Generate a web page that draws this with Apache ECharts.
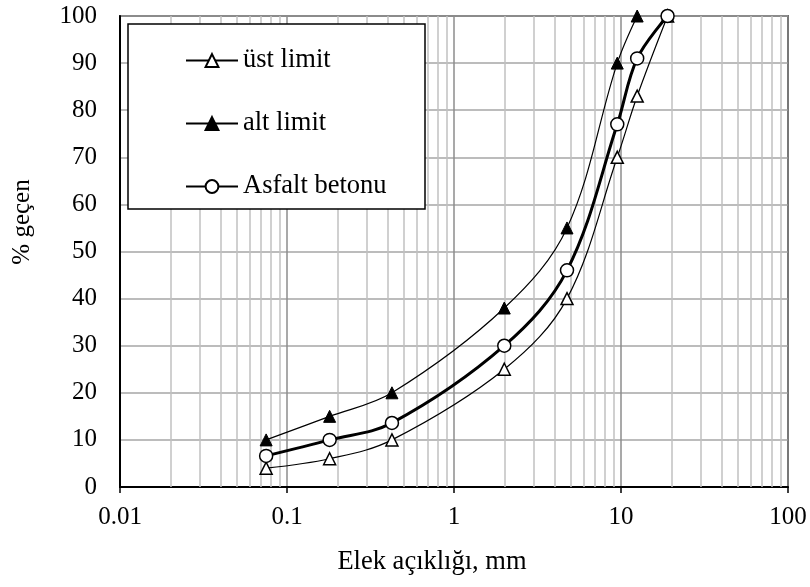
<!DOCTYPE html>
<html>
<head>
<meta charset="utf-8">
<script src="https://cdn.jsdelivr.net/npm/echarts@6/dist/echarts.min.js"></script>
<style>html,body{margin:0;padding:0;background:#fff}#c{width:810px;height:587px}</style>
</head>
<body>
<div id="c"></div>
<script>
const sieveSizes = [0.075, 0.18, 0.425, 2, 4.75, 9.5, 12.5, 19];
const ustLimit = [4, 6, 10, 25, 40, 70, 83, 100];
const altLimit = [10, 15, 20, 38, 55, 90, 100];
const asfaltBetonu = [6.6, 10, 13.6, 30, 46, 77, 91, 100];
const xTickLabels = ['0.01', '0.1', '1', '10', '100'];
const minorGridValues = [0.02,0.03,0.04,0.05,0.06,0.07,0.08,0.09,
  0.2,0.3,0.4,0.5,0.6,0.7,0.8,0.9, 2,3,4,5,6,7,8,9, 20,30,40,50,60,70,80,90];
const seriesNames = ['üst limit', 'alt limit', 'Asfalt betonu'];
const xAxisTitle = 'Elek açıklığı, mm';
const yAxisTitle = '% geçen';

const FONT = '"Liberation Serif", "Times New Roman", serif';
const pairs = (xs, ys) => ys.map((y, i) => [xs[i], y]);

const chart = echarts.init(document.getElementById('c'), null, {renderer: 'canvas'});
chart.setOption({
  animation: false,
  backgroundColor: '#fff',
  textStyle: {fontFamily: FONT, color: '#000'},
  grid: {left: 120, right: 22, top: 16, bottom: 100, show: true, borderColor: '#000', borderWidth: 1.5, containLabel: false},
  xAxis: {
    type: 'log', logBase: 10, min: 0.01, max: 100,
    axisLine: {show: true, onZero: false, lineStyle: {color: '#000', width: 2}},
    axisTick: {show: true, length: 6, lineStyle: {color: '#000', width: 1.5}},
    axisLabel: {fontFamily: FONT, fontSize: 25, color: '#000', margin: 18,
      formatter: v => { const s = xTickLabels.find(t => Math.abs(parseFloat(t) - v) / v < 1e-6); return s || ''; }},
    splitLine: {show: true, lineStyle: {color: '#8c8c8c', width: 1.5}}
  },
  yAxis: {
    type: 'value', min: 0, max: 100, interval: 10,
    axisLine: {show: true, lineStyle: {color: '#000', width: 2}},
    axisTick: {show: false},
    axisLabel: {fontFamily: FONT, fontSize: 25, color: '#000', margin: 23},
    splitLine: {show: true, lineStyle: {color: '#a6a6a6', width: 1.5}}
  },
  legend: {
    orient: 'vertical', left: 180, top: 42, z: 10,
    itemWidth: 52, itemHeight: 16, itemGap: 36,
    textStyle: {fontFamily: FONT, fontSize: 26.5, color: '#000', lineHeight: 26},
    data: seriesNames
  },
  graphic: [
    {type: 'rect', z: 8, shape: {x: 128, y: 24, width: 297, height: 185},
      style: {fill: '#fff', stroke: '#000', lineWidth: 1.5}},
    {type: 'text', x: 22, y: 222, rotation: Math.PI / 2,
      style: {text: yAxisTitle, font: '25px ' + FONT, fill: '#000', align: 'center', verticalAlign: 'middle'}},
    {type: 'text', x: 432, y: 562,
      style: {text: xAxisTitle, font: '26.5px ' + FONT, fill: '#000', align: 'center', verticalAlign: 'middle'}}
  ],
  series: [
    {
      name: seriesNames[0], type: 'line', smooth: 0.35, z: 3,
      data: pairs(sieveSizes, ustLimit),
      symbol: 'triangle', symbolSize: 12,
      itemStyle: {color: '#fff', borderColor: '#000', borderWidth: 1.5},
      lineStyle: {color: '#000', width: 1.2},
      markLine: {
        silent: true, symbol: 'none', z: 1, animation: false,
        label: {show: false},
        lineStyle: {color: '#c0c0c0', width: 1.5, type: 'solid'},
        data: minorGridValues.map(v => ({xAxis: v}))
      }
    },
    {
      name: seriesNames[1], type: 'line', smooth: 0.35, z: 4,
      data: pairs(sieveSizes, altLimit),
      symbol: 'triangle', symbolSize: 12,
      itemStyle: {color: '#000', borderColor: '#000', borderWidth: 1},
      lineStyle: {color: '#000', width: 1.2}
    },
    {
      name: seriesNames[2], type: 'line', smooth: 0.35, z: 5,
      data: pairs(sieveSizes, asfaltBetonu),
      symbol: 'circle', symbolSize: 13,
      itemStyle: {color: '#fff', borderColor: '#000', borderWidth: 1.5},
      lineStyle: {color: '#000', width: 3}
    }
  ]
});
</script>
</body>
</html>
